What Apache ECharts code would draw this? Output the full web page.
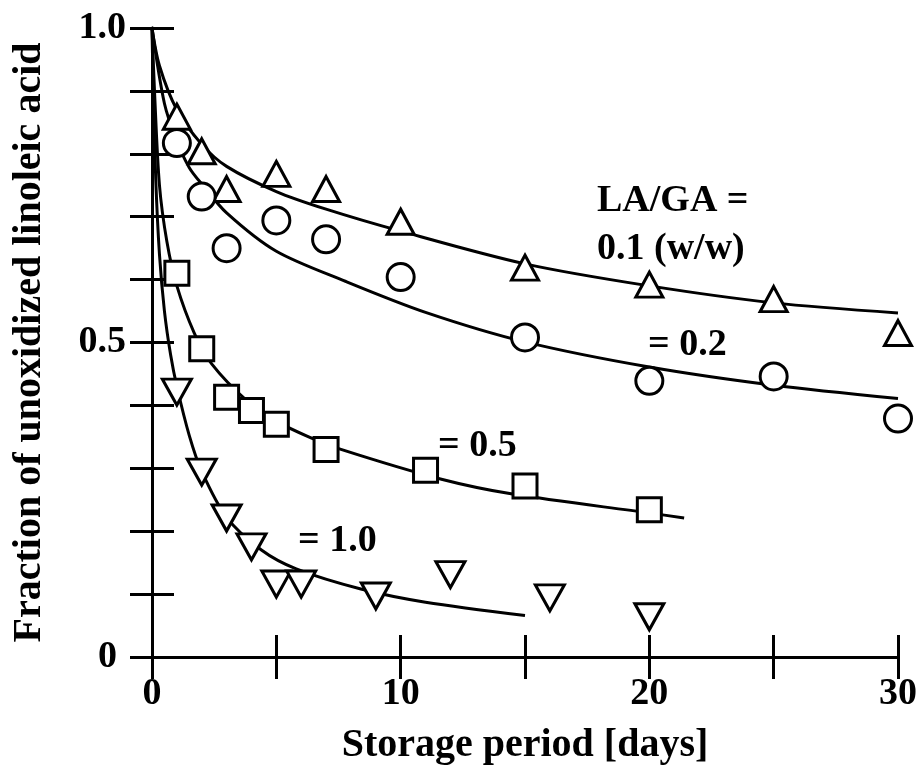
<!DOCTYPE html>
<html>
<head>
<meta charset="UTF-8">
<title>Fraction of unoxidized linoleic acid</title>
<script src="https://cdn.jsdelivr.net/npm/echarts@6/dist/echarts.min.js"></script>
<style>
  html, body { margin: 0; padding: 0; background: #fff; }
  #container { width: 920px; height: 771px; }
</style>
</head>
<body>
<div id="container"></div>
<script type="text/javascript">
// measured points, LA/GA = 0.1 / 0.2 / 0.5 / 1.0
var triX = [1, 2, 3, 5, 7, 10, 15, 20, 25, 30];
var triY = [0.859, 0.804, 0.744, 0.768, 0.744, 0.692, 0.619, 0.592, 0.569, 0.515];
var circX = [1, 2, 3, 5, 7, 10, 15, 20, 25, 30];
var circY = [0.817, 0.732, 0.650, 0.694, 0.664, 0.604, 0.508, 0.439, 0.446, 0.379];
var sqX = [1, 2, 3, 4, 5, 7, 11, 15, 20];
var sqY = [0.610, 0.490, 0.413, 0.392, 0.370, 0.330, 0.297, 0.272, 0.234];
var invX = [1, 2, 3, 4, 5, 6, 9, 12, 16, 20];
var invY = [0.421, 0.294, 0.221, 0.175, 0.116, 0.116, 0.097, 0.131, 0.094, 0.064];

// fitted curves
var fit1X = [0, 0.3, 1, 2, 3, 5, 7, 10, 15, 20, 25, 30];
var fit1Y = [1, 0.94, 0.87, 0.815, 0.78, 0.74, 0.712, 0.677, 0.625, 0.59, 0.563, 0.547];
var fit2X = [0, 0.5, 1, 1.5, 2, 3, 5, 7.8, 11, 15, 20, 25, 30];
var fit2Y = [1, 0.88, 0.82, 0.778, 0.752, 0.706, 0.645, 0.597, 0.548, 0.501, 0.461, 0.432, 0.411];
var fit3X = [0, 0.1, 0.3, 0.6, 1, 1.7, 2.4, 3.8, 5, 6.3, 7.6, 11.6, 14.5, 20, 21.4];
var fit3Y = [1, 0.9, 0.75, 0.66, 0.59, 0.515, 0.466, 0.408, 0.375, 0.35, 0.33, 0.283, 0.259, 0.229, 0.221];
var fit4X = [0, 0.05, 0.15, 0.3, 0.5, 0.75, 1, 1.5, 2, 3, 4.4, 5.8, 8.4, 11, 15];
var fit4Y = [1, 0.9, 0.76, 0.64, 0.55, 0.48, 0.43, 0.352, 0.295, 0.222, 0.17, 0.14, 0.108, 0.087, 0.066];

var xLabels = [0, 10, 20, 30];
var yLabels = [0, 0.5, 1.0];

var FONT = 'Liberation Serif';

function pairs(xs, ys) {
  var out = [];
  for (var i = 0; i < xs.length; i++) out.push([xs[i], ys[i]]);
  return out;
}

var dom = document.getElementById("container");
var myChart = echarts.init(dom);

var axisLine = { lineStyle: { color: '#000', width: 3 } };
var axisTick = { inside: true, length: 22, lineStyle: { color: '#000', width: 3 } };
var labelFont = { fontFamily: FONT, fontWeight: 'bold', fontSize: 38, color: '#000' };

function curve(xs, ys) {
  return {
    type: 'line',
    data: pairs(xs, ys),
    showSymbol: false,
    smooth: 0.3,
    lineStyle: { color: '#000', width: 3 },
    z: 2,
    silent: true
  };
}

function marks(xs, ys, symbol, size, rotate) {
  return {
    type: 'scatter',
    data: pairs(xs, ys),
    symbol: symbol,
    symbolSize: size,
    symbolRotate: rotate || 0,
    itemStyle: { color: '#fff', borderColor: '#000', borderWidth: 3, opacity: 1 },
    z: 5
  };
}

function annot(text, x, y) {
  return {
    type: 'text',
    x: x,
    y: y,
    style: {
      text: text,
      fill: '#000',
      font: 'bold 38px "' + FONT + '"',
      align: 'left',
      verticalAlign: 'middle'
    },
    z: 10
  };
}

var option = {
  animation: false,
  backgroundColor: '#fff',
  grid: { left: 152, right: 16, top: 28, bottom: 114 },
  xAxis: [{
    type: 'value', min: 0, max: 30, interval: 5,
    position: 'bottom',
    axisLine: axisLine, axisTick: axisTick, splitLine: { show: false },
    axisLabel: Object.assign({
      margin: 18,
      formatter: function (v) { return xLabels.indexOf(v) >= 0 ? String(v) : ''; }
    }, labelFont),
    name: 'Storage period [days]',
    nameLocation: 'middle',
    nameGap: 69,
    nameTextStyle: { fontFamily: FONT, fontWeight: 'bold', fontSize: 40, color: '#000' }
  }, {
    type: 'value', min: 0, max: 30, interval: 5,
    position: 'top',
    axisLine: axisLine, axisTick: axisTick, splitLine: { show: false },
    axisLabel: { show: false }
  }],
  yAxis: [{
    type: 'value', min: 0, max: 1, interval: 0.1,
    position: 'left',
    axisLine: axisLine, axisTick: axisTick, splitLine: { show: false },
    axisLabel: Object.assign({
      margin: 26,
      formatter: function (v) {
        var k = Math.round(v * 10);
        if (k === 0) return '{z|0}';
        for (var i = 0; i < yLabels.length; i++) {
          if (Math.round(yLabels[i] * 10) === k) return yLabels[i].toFixed(1);
        }
        return '';
      },
      rich: {
        z: { fontFamily: FONT, fontWeight: 'bold', fontSize: 38, color: '#000', padding: [0, 9, 0, 0] }
      }
    }, labelFont),
    name: 'Fraction of unoxidized linoleic acid',
    nameLocation: 'middle',
    nameGap: 102,
    nameTextStyle: { fontFamily: FONT, fontWeight: 'bold', fontSize: 40, color: '#000' }
  }, {
    type: 'value', min: 0, max: 1, interval: 0.1,
    position: 'right',
    axisLine: axisLine, axisTick: axisTick, splitLine: { show: false },
    axisLabel: { show: false }
  }],
  series: [
    curve(fit1X, fit1Y),
    curve(fit2X, fit2Y),
    curve(fit3X, fit3Y),
    curve(fit4X, fit4Y),
    marks(triX, triY, 'triangle', [27, 25]),
    marks(circX, circY, 'circle', 27),
    marks(sqX, sqY, 'rect', 24),
    marks(invX, invY, 'triangle', [29, 26], 180)
  ],
  graphic: [
    annot('LA/GA =', 597, 201),
    annot('0.1 (w/w)', 597, 249),
    annot('= 0.2', 648, 345),
    annot('= 0.5', 438, 446),
    annot('= 1.0', 298, 541)
  ]
};

if (option && typeof option === "object") {
  myChart.setOption(option, true);
}
</script>
</body>
</html>
